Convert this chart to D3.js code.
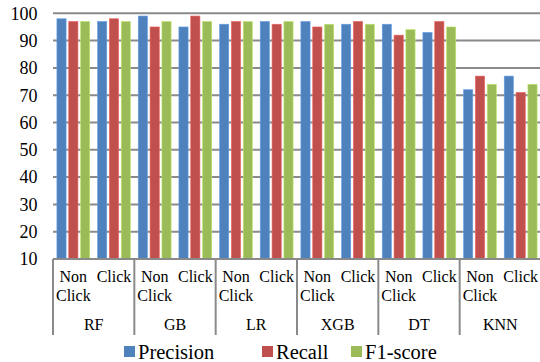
<!DOCTYPE html>
<html>
<head>
<meta charset="utf-8">
<script src="https://cdn.jsdelivr.net/npm/d3@7"></script>
<style>
  html, body { margin: 0; padding: 0; background: #fff; }
  svg { display: block; }
</style>
</head>
<body>
<svg id="chart" width="540" height="362"></svg>
<script>
// Classifier performance per model and class
const models = ["RF", "GB", "LR", "XGB", "DT", "KNN"];
const classes = ["Non Click", "Click"];
const seriesNames = ["Precision", "Recall", "F1-score"];
const seriesColors = ["#4F81BD", "#C0504D", "#9BBB59"];

// values listed per model: [Non Click, Click]
const precision = [[98, 97], [99, 95], [96, 97], [97, 96], [96, 93], [72, 77]];
const recall    = [[97, 98], [95, 99], [97, 96], [95, 97], [92, 97], [77, 71]];
const f1score   = [[97, 97], [97, 97], [97, 97], [96, 96], [94, 95], [74, 74]];

const yTicks = [10, 20, 30, 40, 50, 60, 70, 80, 90, 100];

const seriesValues = [precision, recall, f1score];

const FONT = "'Liberation Serif', 'Times New Roman', serif";

const svg = d3.select("#chart");
const plot = { left: 53, right: 541, top: 13.3, bottom: 259 };

const y = d3.scaleLinear().domain([10, 100]).range([plot.bottom, plot.top]);

const xModel = d3.scaleBand().domain(models).range([plot.left, plot.right]).padding(0);
const xClass = d3.scaleBand().domain(classes).range([0, xModel.bandwidth()]).padding(0);
const xSeries = d3.scaleBand().domain(seriesNames).range([0, xClass.bandwidth()])
  .paddingInner(0.224).paddingOuter(0.33);

// gridlines
svg.append("g")
  .selectAll("line")
  .data(yTicks)
  .join("line")
  .attr("x1", plot.left).attr("x2", plot.right)
  .attr("y1", d => y(d)).attr("y2", d => y(d))
  .attr("stroke", "#8a8a8a").attr("stroke-width", 2);

// y tick labels
svg.append("g")
  .selectAll("text")
  .data(yTicks)
  .join("text")
  .attr("x", 37.5).attr("y", d => y(d))
  .attr("dy", "0.35em")
  .attr("text-anchor", "end")
  .style("font-family", FONT)
  .style("font-size", "18px")
  .attr("fill", "#000")
  .text(d => d);

// bars
const rows = [];
models.forEach((m, mi) => {
  classes.forEach((c, ci) => {
    seriesNames.forEach((s, si) => {
      rows.push({ model: m, cls: c, series: s, color: seriesColors[si], value: seriesValues[si][mi][ci] });
    });
  });
});

svg.append("g")
  .selectAll("rect")
  .data(rows)
  .join("rect")
  .attr("x", d => xModel(d.model) + xClass(d.cls) + xSeries(d.series))
  .attr("y", d => y(d.value))
  .attr("width", xSeries.bandwidth())
  .attr("height", d => y(10) - y(d.value))
  .attr("fill", d => d.color)
  .attr("stroke", d => d3.color(d.color).brighter(0.6))
  .attr("stroke-width", 0.6);

// category axis baseline
svg.append("line")
  .attr("x1", plot.left).attr("x2", plot.right)
  .attr("y1", plot.bottom).attr("y2", plot.bottom)
  .attr("stroke", "#8a8a8a").attr("stroke-width", 2);

// model group separators
const sepX = models.map(m => xModel(m)).concat([plot.right]);
svg.append("g")
  .selectAll("line")
  .data(sepX)
  .join("line")
  .attr("x1", d => d).attr("x2", d => d)
  .attr("y1", plot.bottom).attr("y2", 335)
  .attr("stroke", "#8a8a8a").attr("stroke-width", 2);

// class labels (wrapped onto lines)
const classG = svg.append("g");
models.forEach(m => {
  classes.forEach(c => {
    const cx = xModel(m) + xClass(c) + xClass.bandwidth() / 2;
    const words = c.split(" ");
    words.forEach((w, i) => {
      classG.append("text")
        .attr("x", cx).attr("y", 282 + i * 18.5)
        .attr("text-anchor", "middle")
        .style("font-family", FONT)
        .style("font-size", "16px")
        .attr("fill", "#000")
        .text(w);
    });
  });
});

// model labels
svg.append("g")
  .selectAll("text")
  .data(models)
  .join("text")
  .attr("x", d => xModel(d) + xModel.bandwidth() / 2)
  .attr("y", 330)
  .attr("text-anchor", "middle")
  .style("font-family", FONT)
  .style("font-size", "16px")
  .attr("fill", "#000")
  .text(d => d);

// legend
const legendX = [124, 262, 351];
const legend = svg.append("g");
seriesNames.forEach((s, i) => {
  legend.append("rect")
    .attr("x", legendX[i]).attr("y", 346)
    .attr("width", 11).attr("height", 11)
    .attr("fill", seriesColors[i]);
  legend.append("text")
    .attr("x", legendX[i] + 14).attr("y", 358.5)
    .style("font-family", FONT)
    .style("font-size", "20.5px")
    .attr("fill", "#000")
    .text(s);
});
</script>
</body>
</html>
